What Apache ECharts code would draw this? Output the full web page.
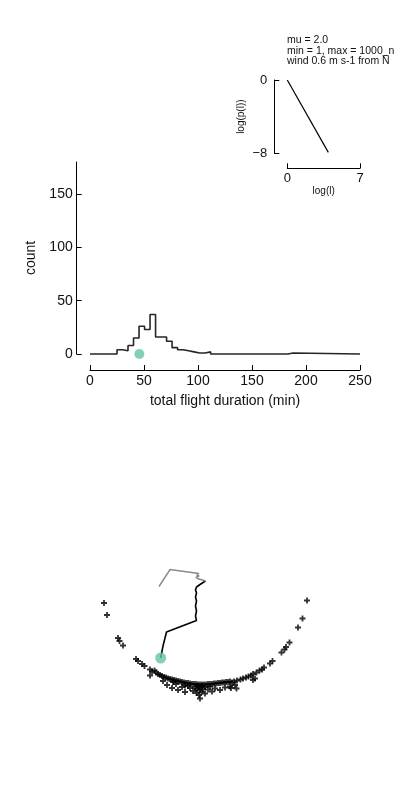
<!DOCTYPE html>
<html><head><meta charset="utf-8">
<script src="https://cdn.jsdelivr.net/npm/echarts@6/dist/echarts.min.js"></script>
<style>html,body{margin:0;padding:0;background:#fff}#c{width:400px;height:800px}</style>
</head><body><div id="c"></div>
<script>
// Histogram of total flight duration (bin left edges, counts)
const binEdges = [0, 25, 30.1, 35.2, 40.3, 45.4, 50.5, 55.6, 60.7, 65.8, 70.9, 76, 81.1, 86.2, 91.3, 96.4, 101.5, 106.6, 111.7, 183.1, 188.2, 250];
const binCounts = [0, 4, 3, 8, 15, 26, 23, 37, 16, 16, 12, 6, 4, 3, 2, 1, 1, 2, 0, 1, 0, 0];
const histXTicks = [0, 50, 100, 150, 200, 250];
const histYTicks = [0, 50, 100, 150];
const observedDuration = [45.7];
const observedCount = [0];

// Inset: power law step-length distribution
const logL = [0, 3.95];
const logP = [0, -7.9];
const insetXTicks = [0, 7];
const insetYTicks = [-8, 0];
const infoLines = ["mu = 2.0", "min = 1, max = 1000_n", "wind 0.6 m s-1 from N\u0304"];

// Trajectory (m)
const trackX = [-39.3, -37, -33.5, -3.5, -4.5, -3.5, -4.5, -3.5, -4.5, -3.5, -4.5, -3.5, 0, 5.5];
const trackY = [42, 54, 68, 79.5, 84, 89, 94, 99, 103, 107, 110, 113, 115.5, 119];
const driftX = [5.5, -1, -4, -1, -3.5];
const driftY = [119, 121, 122.5, 124, 125.5];
const windX = [-41, -30, -1];
const windY = [113.5, 130.5, 126.5];
const startX = [-39.3];
const startY = [42];
// Landing positions of simulated flights
const landX = [-96,-93,-82,-80.5,-77,-64,-62,-58,-55.5,-50,-48,-50,-45.5,-44,-42,-40,-38,-36,-34,-32,-30,-28,-26,-24,-22,-20,-18,-16,-14,-12,-10,-8,-6,-4,-2,0,2,4,6,8,10,12,14,16,18,20,22,24,26,28,30,32,34,37,40.5,43,46,48.5,51,53,56.5,59.5,62,64,70,72.5,81.5,84.5,86,89.5,98,102.5,107,
  -33,-28,-27,-22,-18,-15,-10,-7,-3.5,-1,0,1.5,5,8,12,15,20,25,30,35,36.5,31,53,55,-3,3,-1,-5,5,10,-12,-15,-24,-37,0,2,-2];
const landY = [97,85,62,59,54.5,41,39,36,34,30.5,28.5,24.5,29.5,27.5,26,25,24,23,22.5,21.5,21,20.5,20,19.5,19,18.5,18,17.5,17,17,16.5,16,16,16,15.5,15.5,15.5,15.5,15.5,16,16,16,16.5,16.5,17,17,17.5,17.5,18,18,18.5,17.5,18.5,19.5,20.5,21.5,22.5,23.5,24.5,26,27.5,29.5,30.5,32.5,36.5,39,47.5,50.5,53,57.5,72.5,81.5,99.5,
  15,12,18,10,13,8,12,9,7,5,1.5,8,6.5,10.5,8.5,11.5,10,12.5,13.5,15,11.5,12,20,21.5,11,11,13,12.5,13,13.5,14,14.5,16,19,10,14,14];

const FONT = 'Liberation Sans';
const TXT = '#111';
const zip = (a, b) => a.map((v, i) => [v, b[i]]);
const minus = v => String(v).replace('-', '\u2212');
const plus = 'path://M3.5,0H6.5V3.5H10V6.5H6.5V10H3.5V6.5H0V3.5H3.5Z';
const spine = {show: true, onZero: false, lineStyle: {color: '#000', width: 1}};

const chart = echarts.init(document.getElementById('c'), null, {renderer: 'canvas'});
const hiddenAxis = {show: false};
chart.setOption({
  animation: false,
  backgroundColor: '#fff',
  textStyle: {fontFamily: FONT},
  grid: [
    {left: 90, width: 270, top: 162, height: 194.7},      // histogram data area
    {left: 90, width: 270, top: 162, height: 192},        // histogram spines
    {left: 287.3, width: 72.7, top: 80, height: 73.3},    // inset
    {left: 0, width: 400, top: 400, height: 400}          // trajectory map
  ],
  xAxis: [
    Object.assign({type: 'value', gridIndex: 0, min: 0, max: 250}, hiddenAxis),
    {type: 'value', gridIndex: 1, min: 0, max: 250, offset: 16, position: 'bottom',
      name: 'total flight duration (min)', nameLocation: 'middle', nameGap: 24,
      nameTextStyle: {fontSize: 14, color: TXT, fontFamily: FONT},
      axisLine: spine,
      axisTick: {show: true, inside: true, length: 5, customValues: histXTicks, lineStyle: {color: '#000'}},
      axisLabel: {customValues: histXTicks, fontSize: 14, color: TXT, margin: 4, fontFamily: FONT},
      splitLine: {show: false}},
    {type: 'value', gridIndex: 2, min: 0, max: 7, offset: 15, position: 'bottom',
      name: 'log(l)', nameLocation: 'middle', nameGap: 17,
      nameTextStyle: {fontSize: 10, color: TXT, fontFamily: FONT},
      axisLine: spine,
      axisTick: {show: true, inside: true, length: 5, customValues: insetXTicks, lineStyle: {color: '#000'}},
      axisLabel: {customValues: insetXTicks, fontSize: 13, color: TXT, margin: 4, fontFamily: FONT},
      splitLine: {show: false}},
    Object.assign({type: 'value', gridIndex: 3, min: -200, max: 200}, hiddenAxis)
  ],
  yAxis: [
    Object.assign({type: 'value', gridIndex: 0, min: -2.5, max: 180}, hiddenAxis),
    {type: 'value', gridIndex: 1, min: 0, max: 180, offset: 13.3, position: 'left',
      name: 'count', nameLocation: 'middle', nameGap: 37, nameRotate: 90,
      nameTextStyle: {fontSize: 14, color: TXT, fontFamily: FONT},
      axisLine: spine,
      axisTick: {show: true, inside: true, length: 5, customValues: histYTicks, lineStyle: {color: '#000'}},
      axisLabel: {customValues: histYTicks, fontSize: 14, color: TXT, margin: 4, fontFamily: FONT},
      splitLine: {show: false}},
    {type: 'value', gridIndex: 2, min: -8, max: 0, offset: 13, position: 'left',
      name: 'log(p(l))', nameLocation: 'middle', nameGap: 28, nameRotate: 90,
      nameTextStyle: {fontSize: 10, color: TXT, fontFamily: FONT},
      axisLine: spine,
      axisTick: {show: true, inside: true, length: 5, customValues: insetYTicks, lineStyle: {color: '#000'}},
      axisLabel: {customValues: insetYTicks, fontSize: 13, color: TXT, margin: 7, fontFamily: FONT, formatter: minus},
      splitLine: {show: false}},
    Object.assign({type: 'value', gridIndex: 3, min: -100, max: 300}, hiddenAxis)
  ],
  graphic: [{
    type: 'text', left: 287, top: 35, silent: true,
    style: {text: infoLines.join('\n'), fontSize: 10.5, lineHeight: 10.5, fill: TXT, fontFamily: FONT}
  }],
  series: [
    {type: 'line', xAxisIndex: 0, yAxisIndex: 0, step: 'end', data: zip(binEdges, binCounts),
      symbol: 'none', lineStyle: {color: '#262626', width: 1.6}, z: 2},
    {type: 'scatter', xAxisIndex: 0, yAxisIndex: 0, data: zip(observedDuration, observedCount),
      symbolSize: 10, itemStyle: {color: '#66c2a5'}, clip: true, z: 3},
    {type: 'line', xAxisIndex: 2, yAxisIndex: 2, data: zip(logL, logP),
      symbol: 'none', lineStyle: {color: '#000', width: 1.2}},
    {type: 'scatter', xAxisIndex: 3, yAxisIndex: 3, data: zip(landX, landY),
      symbol: plus, symbolSize: 6, itemStyle: {color: '#000'}},
    {type: 'line', xAxisIndex: 3, yAxisIndex: 3, data: zip(trackX, trackY),
      symbol: 'none', lineStyle: {color: '#000', width: 1.6}},
    {type: 'line', xAxisIndex: 3, yAxisIndex: 3, data: zip(driftX, driftY),
      symbol: 'none', lineStyle: {color: '#888', width: 1.6}},
    {type: 'lines', coordinateSystem: 'cartesian2d', xAxisIndex: 3, yAxisIndex: 3, polyline: true,
      symbol: ['none', 'arrow'], symbolSize: 7,
      lineStyle: {color: '#888', width: 1.4, opacity: 1},
      data: [{coords: zip(windX, windY)}]},
    {type: 'scatter', xAxisIndex: 3, yAxisIndex: 3, data: zip(startX, startY),
      symbolSize: 11, itemStyle: {color: '#66c2a5'}, z: 5}
  ]
});
</script></body></html>
